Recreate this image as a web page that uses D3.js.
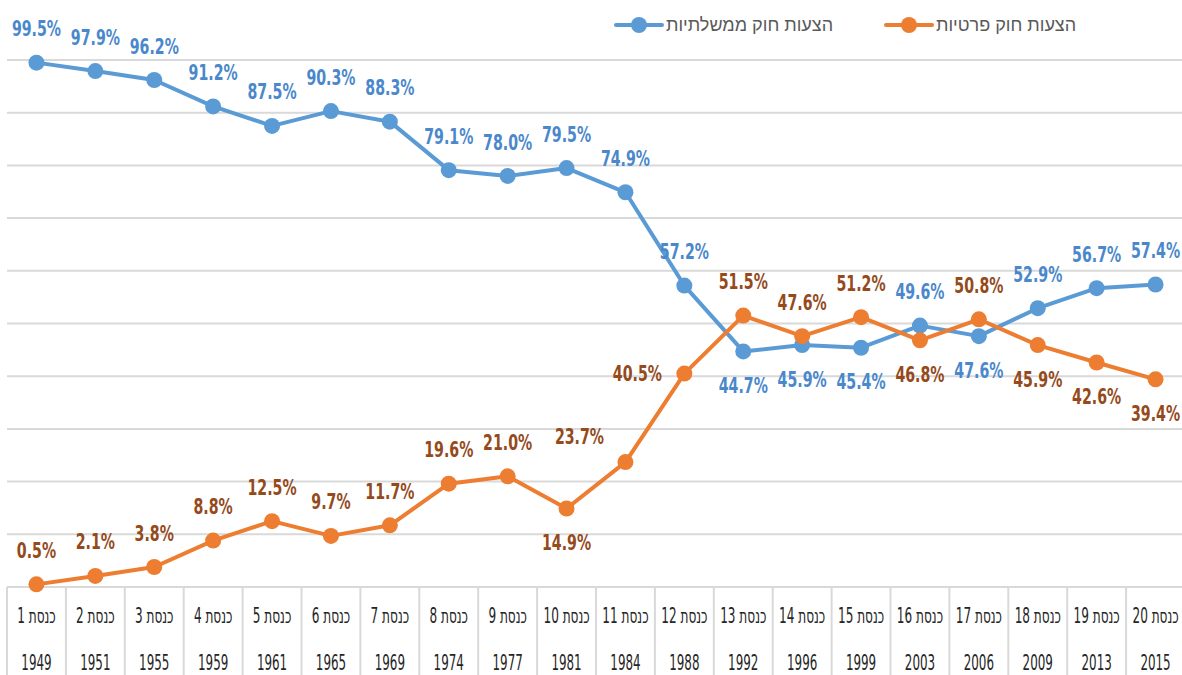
<!DOCTYPE html>
<html>
<head>
<meta charset="utf-8">
<script src="https://cdn.jsdelivr.net/npm/d3@7"></script>
<style>
  body { margin: 0; background: #fff; }
  svg { display: block; }
</style>
</head>
<body>
<div id="chart"></div>
<script>
// knesset numbers and election years
var knessets = [1, 2, 3, 4, 5, 6, 7, 8, 9, 10, 11, 12, 13, 14, 15, 16, 17, 18, 19, 20];
var years = [1949, 1951, 1955, 1959, 1961, 1965, 1969, 1974, 1977, 1981, 1984, 1988, 1992, 1996, 1999, 2003, 2006, 2009, 2013, 2015];

// share of bills (%)
var govBills = [99.5, 97.9, 96.2, 91.2, 87.5, 90.3, 88.3, 79.1, 78.0, 79.5, 74.9, 57.2, 44.7, 45.9, 45.4, 49.6, 47.6, 52.9, 56.7, 57.4];
var privateBills = [0.5, 2.1, 3.8, 8.8, 12.5, 9.7, 11.7, 19.6, 21.0, 14.9, 23.7, 40.5, 51.5, 47.6, 51.2, 46.8, 50.8, 45.9, 42.6, 39.4];

// where the value label sits
var govLabelPos = ["t", "t", "t", "t", "t", "t", "t", "t", "t", "t", "t", "t", "b", "b", "b", "t", "b", "t", "t", "t"];
var privateLabelPos = ["t", "t", "t", "t", "t", "t", "t", "t", "t", "b", "tl", "l", "t", "t", "t", "b", "t", "b", "b", "b"];

var seriesNames = ["הצעות חוק ממשלתיות", "הצעות חוק פרטיות"];

var width = 1182, height = 675;
var font = "'DejaVu Sans Condensed', 'DejaVu Sans', sans-serif";

var svg = d3.select("#chart").append("svg")
    .attr("width", width)
    .attr("height", height);

var x = d3.scaleBand()
    .domain(knessets)
    .range([7, 1185])
    .padding(0);

var y = d3.scaleLinear()
    .domain([0, 100])
    .range([587, 60]);

var cx = function (i) { return x(knessets[i]) + x.bandwidth() / 2; };

// narrow text: the font is squeezed horizontally round its anchor
function narrowText(parent, px, py, sx) {
    return parent.append("g")
        .attr("transform", "translate(" + px + "," + py + ") scale(" + sx + ",1)")
        .append("text")
        .attr("text-anchor", "middle")
        .style("font-family", font);
}

// grid
svg.append("g")
    .selectAll("line")
    .data(d3.range(0, 101, 10))
    .enter().append("line")
    .attr("x1", 7)
    .attr("x2", width)
    .attr("y1", d => y(d))
    .attr("y2", d => y(d))
    .attr("stroke", "#d9d9d9")
    .attr("stroke-width", 2);

// category separators
svg.append("g")
    .selectAll("line")
    .data(knessets)
    .enter().append("line")
    .attr("x1", d => x(d))
    .attr("x2", d => x(d))
    .attr("y1", y(0))
    .attr("y2", height)
    .attr("stroke", "#d9d9d9")
    .attr("stroke-width", 2);

var axis = svg.append("g");
knessets.forEach(function (k, i) {
    narrowText(axis, cx(i), 623, 0.64)
        .attr("direction", "rtl")
        .style("font-size", "21px")
        .attr("fill", "#262626")
        .text("כנסת " + k);
    narrowText(axis, cx(i), 670, 0.63)
        .style("font-size", "21px")
        .attr("fill", "#262626")
        .text(years[i]);
});

var line = d3.line()
    .x((d, i) => cx(i))
    .y(d => y(d));

function drawSeries(values, color) {
    var g = svg.append("g");
    g.append("path")
        .datum(values)
        .attr("d", line)
        .attr("fill", "none")
        .attr("stroke", color)
        .attr("stroke-width", 4)
        .attr("stroke-linejoin", "round");
    g.selectAll("circle")
        .data(values)
        .enter().append("circle")
        .attr("cx", (d, i) => cx(i))
        .attr("cy", d => y(d))
        .attr("r", 8)
        .attr("fill", color);
}

function drawLabels(values, labelColor, pos) {
    var offs = {
        t: [0, -34], b: [0, 34], l: [-47, 0], tl: [-46, -26]
    };
    var g = svg.append("g");
    values.forEach(function (d, i) {
        var o = offs[pos[i]];
        narrowText(g, cx(i) + o[0], y(d) + o[1], 0.75)
            .attr("dy", "0.36em")
            .style("font-size", "21px")
            .style("font-weight", "bold")
            .attr("fill", labelColor)
            .text(d.toFixed(1) + "%");
    });
}

drawSeries(govBills, "#5b9bd5");
drawSeries(privateBills, "#ed7d31");
drawLabels(govBills, "#4a88cb", govLabelPos);
drawLabels(privateBills, "#944a1b", privateLabelPos);

// legend
var legend = svg.append("g");
var legendItems = [
    { name: seriesNames[0], color: "#5b9bd5", x: 616 },
    { name: seriesNames[1], color: "#ed7d31", x: 886 }
];
legendItems.forEach(function (d) {
    legend.append("line")
        .attr("x1", d.x).attr("x2", d.x + 46)
        .attr("y1", 25).attr("y2", 25)
        .attr("stroke", d.color)
        .attr("stroke-width", 4)
        .attr("stroke-linecap", "round");
    legend.append("circle")
        .attr("cx", d.x + 23).attr("cy", 25)
        .attr("r", 8)
        .attr("fill", d.color);
    legend.append("text")
        .attr("x", d.x + 50)
        .attr("y", 25)
        .attr("dy", "0.35em")
        .attr("direction", "rtl")
        .attr("text-anchor", "end")
        .style("font-family", "'Liberation Sans', Arial, sans-serif")
        .style("font-size", "18px")
        .attr("fill", "#595959")
        .text(d.name);
});
</script>
</body>
</html>
